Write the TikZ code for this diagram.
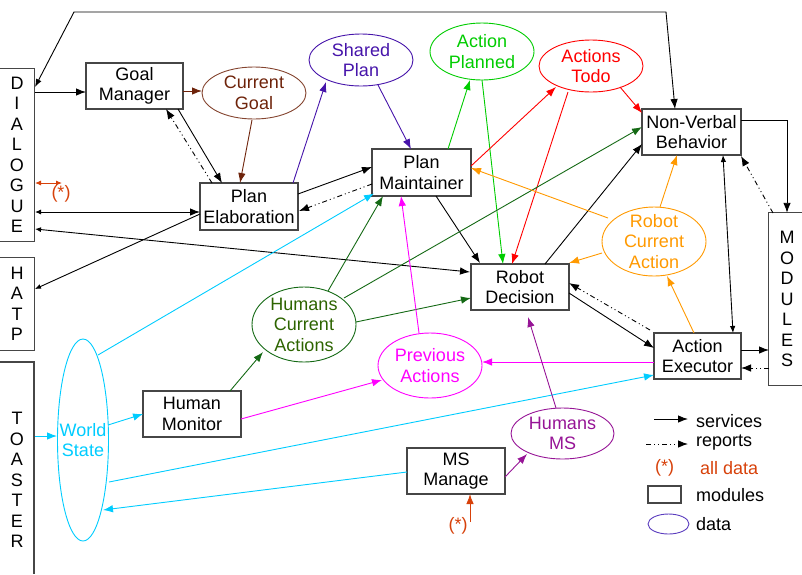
\documentclass[tikz,border=0pt]{standalone}
\usepackage{fontspec}
\setmainfont{Liberation Sans}
\usetikzlibrary{arrows.meta,shapes.geometric}
\definecolor{boxc}{RGB}{70,70,70}
\definecolor{brn}{RGB}{110,35,10}
\definecolor{ind}{RGB}{70,20,170}
\definecolor{grn}{RGB}{0,204,0}
\definecolor{dgr}{RGB}{20,105,20}
\definecolor{dgt}{RGB}{45,100,0}
\definecolor{org}{RGB}{255,153,0}
\definecolor{cyn}{RGB}{0,204,255}
\definecolor{mag}{RGB}{255,0,255}
\definecolor{pur}{RGB}{150,20,150}
\definecolor{ast}{RGB}{215,65,10}
\definecolor{leg}{RGB}{90,60,190}
\begin{document}
\begin{tikzpicture}[x=1pt,y=-1pt,
  every node/.style={font=\fontsize{18pt}{20.5pt}\selectfont,inner sep=0pt},
  box/.style={draw=boxc,line width=1.1pt,align=center},
  dat/.style={ellipse,line width=0.9pt},
  dtext/.style={align=center},
  letters/.style={align=center},
  frame/.style={draw=boxc,line width=1.1pt},
  conn/.style={line width=0.9pt,-{Latex[length=10pt,width=7.5pt]}},
  rep/.style={conn,dash pattern=on 5pt off 3pt on 1pt off 3pt on 1pt off 3pt},
  sboth/.style={line width=0.9pt,{Latex[length=6pt,width=5pt]}-{Latex[length=10pt,width=7.5pt]}}]
\useasboundingbox (0,0) rectangle (802,574);

% side frames
\node[letters,minimum width=34pt,minimum height=172pt] (dlg) at (17,155) {D\\I\\A\\L\\O\\G\\U\\E};
\draw[frame] (dlg.north west) -- (dlg.north east) -- (dlg.south east) -- (dlg.south west);
\node[letters,minimum width=34pt,minimum height=92pt] (hatp) at (17,304) {H\\A\\T\\P};
\draw[frame] (hatp.north west) -- (hatp.north east) -- (hatp.south east) -- (hatp.south west);
\node[letters,minimum width=34pt,minimum height=212pt] (toa) at (17,480) {T\\O\\A\\S\\T\\E\\R};
\draw[frame] (0,362) -- (34,362) -- (34,574);
\node[letters,minimum width=36pt,minimum height=172pt] (mod) at (787,299) {M\\O\\D\\U\\L\\E\\S};
\draw[frame] ([xshift=33pt]mod.north west) -- (mod.north west) -- (mod.south west) -- ([xshift=33pt]mod.south west);

% modules
\node[box,minimum width=97pt,minimum height=46pt] (gm) at (134.5,86) {Goal\\Manager};
\node[box,minimum width=98pt,minimum height=47pt] (pe) at (249,206.5) {Plan\\Elaboration};
\node[box,minimum width=99pt,minimum height=47pt] (pm) at (421.5,172.5) {Plan\\Maintainer};
\node[box,minimum width=99pt,minimum height=46pt] (nvb) at (691.5,132) {Non-Verbal\\Behavior};
\node[box,minimum width=98pt,minimum height=46pt] (rd) at (520,287) {Robot\\Decision};
\node[box,minimum width=87pt,minimum height=46pt] (ae) at (697.5,356) {Action\\Executor};
\node[box,minimum width=98pt,minimum height=46pt] (hm) at (192,414) {Human\\Monitor};
\node[box,minimum width=98pt,minimum height=46pt] (msm) at (456,471) {MS\\Manage};

% data
\node[dat,draw=brn!85,minimum width=104pt,minimum height=52pt] (cg) at (254,93) {};
\node[dtext,text=brn] (cgt) at (cg.center) {Current\\Goal};
\node[dat,draw=ind,minimum width=104pt,minimum height=52pt] (sp) at (361,60) {};
\node[dtext,text=ind] (spt) at (sp.center) {Shared\\Plan};
\node[dat,draw=grn,minimum width=104pt,minimum height=57pt] (ap) at (482,51.5) {};
\node[dtext,text=grn] (apt) at (ap.center) {Action\\Planned};
\node[dat,draw=red,minimum width=104pt,minimum height=52pt] (at) at (591,66) {};
\node[dtext,text=red] (att) at (at.center) {Actions\\Todo};
\node[dat,draw=org,minimum width=104pt,minimum height=69pt] (rca) at (654,241.5) {};
\node[dtext,text=org] (rcat) at (rca.center) {Robot\\Current\\Action};
\node[dat,draw=dgr,minimum width=104pt,minimum height=75pt] (hca) at (304,324.5) {};
\node[dtext,text=dgt] (hcat) at (hca.center) {Humans\\Current\\Actions};
\node[dat,draw=mag,minimum width=104pt,minimum height=65pt] (pa) at (430,365.5) {};
\node[dtext,text=mag] (pat) at (pa.center) {Previous\\Actions};
\node[dat,draw=cyn,minimum width=51pt,minimum height=202pt] (ws) at (83,440) {};
\node[dtext,text=cyn] (wst) at (ws.center) {World\\State};
\node[dat,draw=pur,minimum width=103pt,minimum height=51pt] (hms) at (562.5,433.5) {};
\node[dtext,text=pur] (hmst) at (hms.center) {Humans\\MS};

% connectors
\coordinate (c1) at (74,12); \coordinate (c2) at (666,12);
\draw[line width=0.9pt,{Latex[length=8pt,width=6pt]}-{Latex[length=10pt,width=7.5pt]}] ([shift={(18,-68)}]dlg.center) -- (c1) -- (c2) -- ([shift={(-16.5,-23)}]nvb.center);
\draw[conn] ([shift={(18,-63)}]dlg.center) -- ([shift={(-48.5,6)}]gm.center);
\draw[conn,brn] ([shift={(48.5,5)}]gm.center) -- ([shift={(-52,-2)}]cg.center);
\draw[conn,brn] ([shift={(-2,27)}]cg.center) -- ([shift={(-9,-23.5)}]pe.center);
\draw[conn] ([shift={(43.5,23)}]gm.center) -- ([shift={(-27,-23.5)}]pe.center);
\draw[rep] ([shift={(-37,-23.5)}]pe.center) -- ([shift={(31.5,23)}]gm.center);
\draw[conn,ind] ([shift={(44,-23.5)}]pe.center) -- ([shift={(-35,22)}]sp.center);
\draw[conn,ind] ([shift={(17,25)}]sp.center) -- ([shift={(-10.5,-23.5)}]pm.center);
\draw[conn] ([shift={(49,-12.5)}]pe.center) -- ([shift={(-49.5,-5.5)}]pm.center);
\draw[rep] ([shift={(-49.5,11.5)}]pm.center) -- ([shift={(50,4.5)}]pe.center);
\draw[sboth] ([shift={(18,57)}]dlg.center) -- ([shift={(-49,5.5)}]pe.center);
\draw[line width=0.9pt,-{Latex[length=6pt,width=5pt]}] ([shift={(-49,7.5)}]pe.center) -- ([shift={(18,-15)}]hatp.center);
\draw[sboth] ([shift={(18,74)}]dlg.center) -- ([shift={(-50,-15)}]rd.center);
\draw[conn] ([shift={(14.5,23.5)}]pm.center) -- ([shift={(-40,-24)}]rd.center);
\draw[conn,grn] ([shift={(26.5,-23.5)}]pm.center) -- ([shift={(-12,28.5)}]ap.center);
\draw[conn,grn] ([shift={(0,28.5)}]ap.center) -- ([shift={(-17,-23)}]rd.center);
\draw[conn,red] ([shift={(49.5,-6.5)}]pm.center) -- ([shift={(-35,21)}]at.center);
\draw[conn,red] ([shift={(-23,26)}]at.center) -- ([shift={(-8,-23)}]rd.center);
\draw[conn,red] ([shift={(29,21)}]at.center) -- ([shift={(-49.5,-19)}]nvb.center);
\draw[conn] ([shift={(25,-23)}]rd.center) -- ([shift={(-49.5,12)}]nvb.center);
\draw[conn,dgr] ([shift={(40,-26.5)}]hca.center) -- ([shift={(-49.5,-5)}]nvb.center);
\draw[conn,dgr] ([shift={(24,-33.5)}]hca.center) -- ([shift={(-38.5,23.5)}]pm.center);
\draw[conn,dgr] ([shift={(52,-2.5)}]hca.center) -- ([shift={(-49,11)}]rd.center);
\draw[conn,cyn] ([shift={(15,-85)}]ws.center) -- ([shift={(-47.5,21)}]pm.center);
\draw[conn,cyn] ([shift={(25,-15)}]ws.center) -- ([shift={(-49,0)}]hm.center);
\draw[conn,cyn] ([shift={(18,-44)}]toa.center) -- ([shift={(-26,-4)}]ws.center);
\draw[conn,dgr] ([shift={(38,-23)}]hm.center) -- ([shift={(-41,27.5)}]hca.center);
\draw[conn,mag] ([shift={(49,5)}]hm.center) -- ([shift={(-48,14.5)}]pa.center);
\draw[conn,mag] ([shift={(-11,-32.5)}]pa.center) -- ([shift={(-20.5,23.5)}]pm.center);
\draw[conn,mag] ([shift={(-43.5,6)}]ae.center) -- ([shift={(52,-3.5)}]pa.center);
\draw[conn,cyn] ([shift={(26,42)}]ws.center) -- ([shift={(-43.5,19)}]ae.center);
\draw[conn,cyn] ([shift={(-49,1)}]msm.center) -- ([shift={(20,70)}]ws.center);
\draw[conn,pur] ([shift={(49,6)}]msm.center) -- ([shift={(-35.5,20.5)}]hms.center);
\draw[conn,pur] ([shift={(-6.5,-25.5)}]hms.center) -- ([shift={(8,30)}]rd.center);
\draw[conn] ([shift={(49,6)}]rd.center) -- ([shift={(-43.5,-8)}]ae.center);
\draw[rep] ([shift={(-47.5,-26)}]ae.center) -- ([shift={(49,-4)}]rd.center);
\draw[conn,org] ([shift={(-52,11.5)}]rca.center) -- ([shift={(49,-24)}]rd.center);
\draw[conn,org] ([shift={(-46,-23.5)}]rca.center) -- ([shift={(49.5,-4.5)}]pm.center);
\draw[conn,org] ([shift={(6,-34.5)}]rca.center) -- ([shift={(-14.5,23)}]nvb.center);
\draw[conn,org] ([shift={(-3.5,-23)}]ae.center) -- ([shift={(13,34.5)}]rca.center);
\draw[line width=0.9pt,{Latex[length=7pt,width=5.5pt]}-{Latex[length=7pt,width=5.5pt]}] ([shift={(31.5,23)}]nvb.center) -- ([shift={(35.5,-23)}]ae.center);
\draw[conn] ([shift={(49.5,-12)}]nvb.center) -| (mod.north);
\draw[rep] ([shift={(-14,-86)}]mod.center) -- ([shift={(49.5,24)}]nvb.center);
\draw[conn] ([shift={(43.5,-6)}]ae.center) -- ([shift={(-18,51)}]mod.center);
\draw[rep] ([shift={(-18,69)}]mod.center) -- ([shift={(43.5,12)}]ae.center);

% all-data markers
\node[text=ast] (s1) at (61,194) {(*)};
\draw[line width=0.9pt,ast,{Latex[length=6pt,width=5pt]}-{Latex[length=6pt,width=5pt]}] ([shift={(18,28)}]dlg.center) -- ([shift={(1,-11)}]s1.center);
\node[text=ast] (s2) at (458,526) {(*)};
\draw[conn,ast] ([shift={(12,-4)}]s2.center) -- ([shift={(14,23)}]msm.center);

% legend
\coordinate (l1a) at (654,419); \coordinate (l1b) at (688,419);
\draw[conn] (l1a) -- (l1b);
\node[anchor=west] (lt1) at (696,421) {services};
\coordinate (l2a) at (646,444); \coordinate (l2b) at (688,444);
\draw[rep] (l2a) -- (l2b);
\node[anchor=west] (lt2) at (696,443) {reports};
\node[text=ast] (lt3s) at (664.5,468) {(*)};
\node[anchor=west,text=ast] (lt3) at (700,468) {all data};
\node[draw=boxc,line width=1.1pt,minimum width=33pt,minimum height=17pt] (lbox) at (664.5,494.5) {};
\node[anchor=west] (lt4) at (696,495) {modules};
\node[ellipse,draw=leg,line width=0.9pt,minimum width=41pt,minimum height=20pt] (lell) at (668.5,524) {};
\node[anchor=west] (lt5) at (696,524) {data};
\end{tikzpicture}
\end{document}
